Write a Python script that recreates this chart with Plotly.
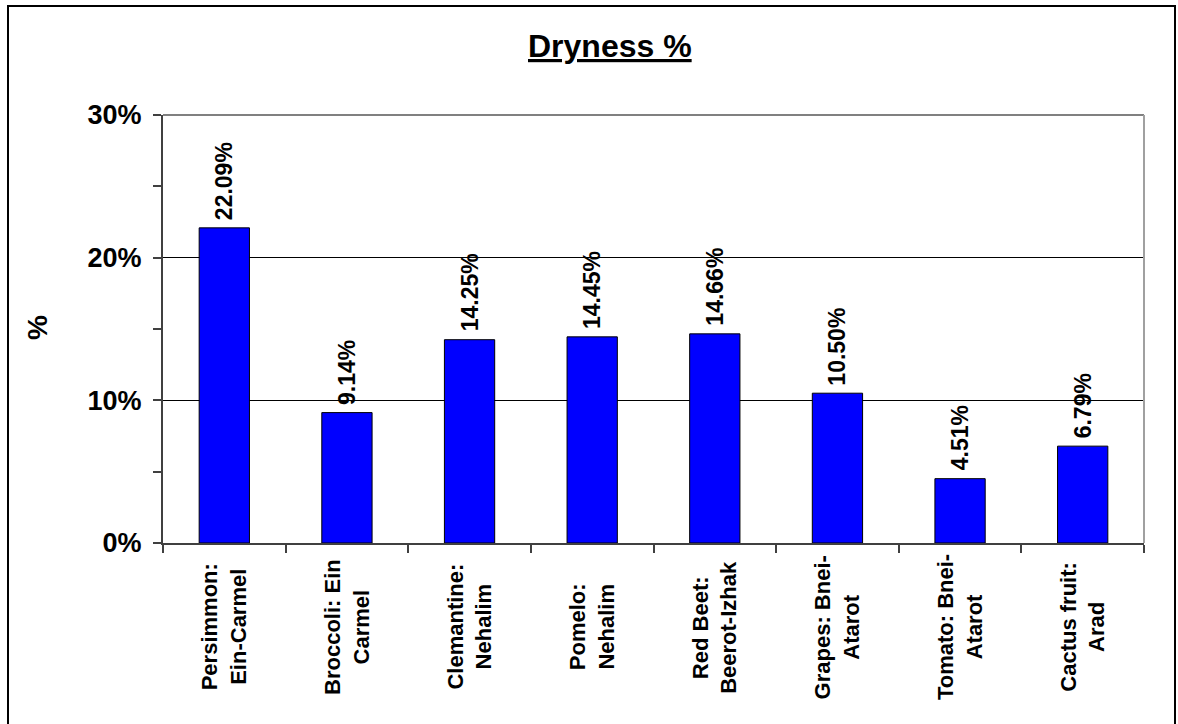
import plotly.graph_objects as go

# Dryness per product and site
categories = [
    "Persimmon:<br>Ein-Carmel",
    "Broccoli: Ein<br>Carmel",
    "Clemantine:<br>Nehalim",
    "Pomelo:<br>Nehalim",
    "Red Beet:<br>Beerot-Izhak",
    "Grapes: Bnei-<br>Atarot",
    "Tomato: Bnei-<br>Atarot",
    "Cactus fruit:<br>Arad",
]
dryness = [22.09, 9.14, 14.25, 14.45, 14.66, 10.50, 4.51, 6.79]
y_ticks = [0, 10, 20, 30]
y_tick_labels = ["0%", "10%", "20%", "30%"]

FONT = "Liberation Sans, Arial, sans-serif"
W, H = 1178, 724
L, R, T, B = 163, 34, 115, 181
PW, PH = W - L - R, H - T - B


def px_x(p):
    return (p - L) / PW


def px_y(p):
    return (H - B - p) / PH


fig = go.Figure(
    go.Bar(
        x=categories,
        y=dryness,
        marker=dict(color="#0000FF", line=dict(color="#000000", width=1)),
        width=0.41,
        hoverinfo="x+y",
    )
)

annotations = []
# value labels above each bar
for c, v in zip(categories, dryness):
    annotations.append(dict(
        x=c, y=v, xref="x", yref="y", text=f"{v:.2f}%", textangle=-90,
        showarrow=False, xanchor="center", yanchor="bottom", yshift=6,
        font=dict(family=FONT, size=23, color="#000000"),
    ))
# category labels below the axis
for c in categories:
    annotations.append(dict(
        x=c, y=px_y(627), xref="x", yref="paper", text=c, textangle=-90,
        showarrow=False, xanchor="center", yanchor="middle", align="center",
        font=dict(family=FONT, size=22, color="#000000"),
    ))
# y axis title
annotations.append(dict(
    x=px_x(37), y=px_y(328), xref="paper", yref="paper", text="%",
    textangle=-90, showarrow=False, xanchor="center", yanchor="middle",
    font=dict(family=FONT, size=28, color="#000000"),
))
# chart title
annotations.append(dict(
    x=px_x(610), y=px_y(46), xref="paper", yref="paper",
    text="<b><u>Dryness %</u></b>", showarrow=False,
    xanchor="center", yanchor="middle",
    font=dict(family=FONT, size=32, color="#000000"),
))

shapes = [
    # plot area frame (top and right)
    dict(type="line", xref="paper", yref="paper", x0=0, x1=1, y0=1, y1=1,
         line=dict(color="#808080", width=2)),
    dict(type="line", xref="paper", yref="paper", x0=1, x1=1, y0=0, y1=1,
         line=dict(color="#A0A0A0", width=2)),
    # outer chart border
    dict(type="rect", xref="paper", yref="paper",
         x0=px_x(8), x1=px_x(1175), y0=px_y(730), y1=px_y(6),
         line=dict(color="#000000", width=2), layer="above"),
]

fig.update_layout(
    width=W, height=H,
    margin=dict(l=L, r=R, t=T, b=B),
    paper_bgcolor="#FFFFFF",
    plot_bgcolor="#FFFFFF",
    showlegend=False,
    font=dict(family=FONT, color="#000000"),
    annotations=annotations,
    shapes=shapes,
    xaxis=dict(
        type="category",
        showticklabels=False,
        showgrid=False,
        showline=True, linecolor="#404040", linewidth=2,
        ticks="outside", tickson="boundaries", ticklen=8,
        tickcolor="#404040", tickwidth=2,
        range=[-0.5, len(categories) - 0.5],
    ),
    yaxis=dict(
        range=[0, 30],
        tickvals=y_ticks, ticktext=y_tick_labels,
        tickfont=dict(family=FONT, size=27, color="#000000"),
        showgrid=True, gridcolor="#000000", gridwidth=1,
        zeroline=False,
        showline=True, linecolor="#404040", linewidth=2,
        ticks="outside", ticklen=8, tickcolor="#404040", tickwidth=2,
        ticklabelstandoff=6,
        minor=dict(dtick=5, ticks="outside", ticklen=8,
                   tickcolor="#404040", tickwidth=2, showgrid=False),
    ),
)

# bold weight for all text
fig.update_layout(font_weight="bold")
fig.update_yaxes(tickfont_weight="bold")
for a in fig.layout.annotations:
    a.font.weight = "bold"

fig.write_html("out.html")
